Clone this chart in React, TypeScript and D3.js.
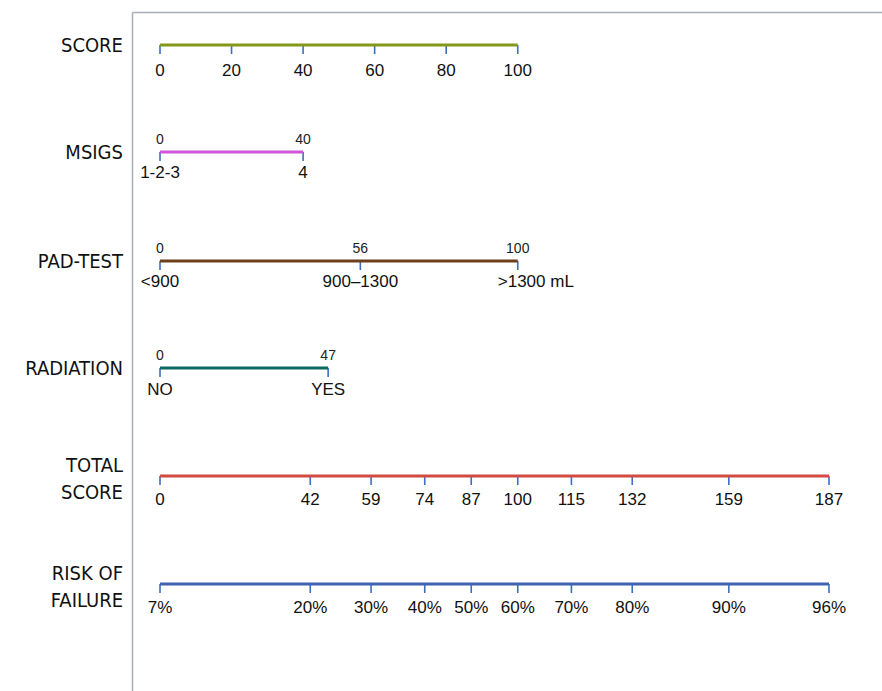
import React from "react";
import * as d3 from "d3";

const scoreTicks = [0, 20, 40, 60, 80, 100];
const msigsPoints = [0, 40];
const msigsLabels = ["1-2-3", "4"];
const padPoints = [0, 56, 100];
const padLabels = ["<900", "900\u20131300", ">1300 mL"];
const radiationPoints = [0, 47];
const radiationLabels = ["NO", "YES"];
const totalTicks = [0, 42, 59, 74, 87, 100, 115, 132, 159, 187];
const riskLabels = ["7%", "20%", "30%", "40%", "50%", "60%", "70%", "80%", "90%", "96%"];

const W = 882;
const H = 691;
const labelFont = "'Liberation Sans Narrow', 'DejaVu Sans Condensed', 'Liberation Sans', sans-serif";
const tickFont = "'Liberation Sans Narrow', 'Liberation Sans', sans-serif";
const smallFont = "'Liberation Sans', Arial, sans-serif";
const tickColor = "#3c6fc2";

type Row = {
  name: string[];
  y: number;
  color: string;
  points: number[];
  top?: string[];
  bottom: string[];
  max: number;
  dy: number;
};

export default function App() {
  const x = d3.scaleLinear().domain([0, 187]).range([160, 829]);

  const rows: Row[] = [
    { name: ["SCORE"], y: 45, color: "#84981a", points: scoreTicks, bottom: scoreTicks.map(String), max: 100, dy: 31 },
    { name: ["MSIGS"], y: 152, color: "#d055dc", points: msigsPoints, top: msigsPoints.map(String), bottom: msigsLabels, max: 40, dy: 26 },
    { name: ["PAD-TEST"], y: 261, color: "#6b3f1c", points: padPoints, top: padPoints.map(String), bottom: padLabels, max: 100, dy: 26 },
    { name: ["RADIATION"], y: 368, color: "#0e6862", points: radiationPoints, top: radiationPoints.map(String), bottom: radiationLabels, max: 47, dy: 27 },
    { name: ["TOTAL", "SCORE"], y: 476, color: "#d24a40", points: totalTicks, bottom: totalTicks.map(String), max: 187, dy: 29 },
    { name: ["RISK OF", "FAILURE"], y: 584, color: "#3d62b0", points: totalTicks, bottom: riskLabels, max: 187, dy: 29 },
  ];

  return (
    <svg width={W} height={H} style={{ position: "absolute", left: 0, top: 0, background: "#fff" }}>
      <rect x={0} y={0} width={W} height={H} fill="#fff" />
      <line x1={132.5} y1={12.5} x2={W} y2={12.5} stroke="#a7b0b4" strokeWidth={1.5} />
      <line x1={132.5} y1={12.5} x2={132.5} y2={H} stroke="#a7b0b4" strokeWidth={1.5} />
      {rows.map((r, i) => (
        <g key={i}>
          {r.name.length === 1 ? (
            <text x={123} y={r.y + 7} textAnchor="end" fontFamily={labelFont} fontSize={20} fill="#111">
              {r.name[0]}
            </text>
          ) : (
            <g>
              <text x={123} y={r.y - 4} textAnchor="end" fontFamily={labelFont} fontSize={20} fill="#111">
                {r.name[0]}
              </text>
              <text x={123} y={r.y + 23} textAnchor="end" fontFamily={labelFont} fontSize={20} fill="#111">
                {r.name[1]}
              </text>
            </g>
          )}
          {r.points.map((p, j) => (
            <line key={"t" + j} x1={x(p)} x2={x(p)} y1={r.y} y2={r.y + 9} stroke={tickColor} strokeWidth={1.6} />
          ))}
          <line x1={x(0)} x2={x(r.max)} y1={r.y} y2={r.y} stroke={r.color} strokeWidth={3} />
          {r.top &&
            r.top.map((t, j) => (
              <text key={"u" + j} x={x(r.points[j])} y={r.y - 8} textAnchor="middle" fontFamily={smallFont} fontSize={14} fill="#222">
                {t}
              </text>
            ))}
          {r.bottom.map((t, j) => {
            const isML = t.endsWith("mL");
            return (
              <text
                key={"b" + j}
                x={isML ? x(r.points[j]) - 20 : x(r.points[j])}
                y={r.y + r.dy}
                textAnchor={isML ? "start" : "middle"}
                fontFamily={tickFont}
                fontSize={17}
                fill="#111"
              >
                {t}
              </text>
            );
          })}
        </g>
      ))}
    </svg>
  );
}
